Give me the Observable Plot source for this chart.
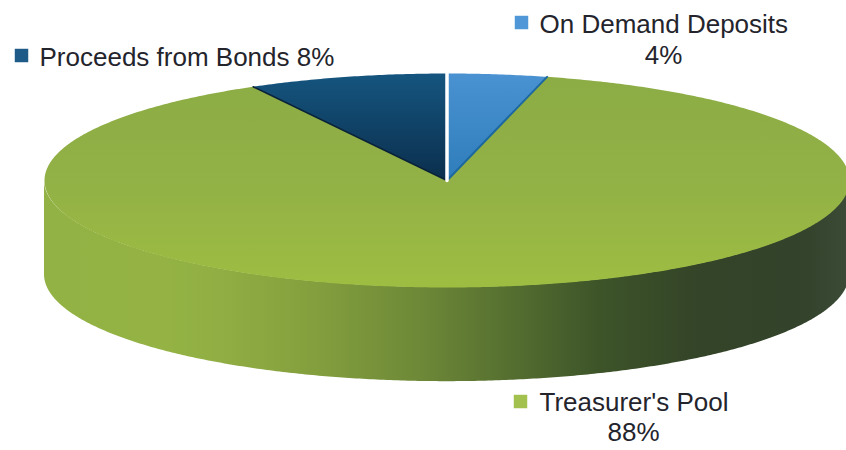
<!DOCTYPE html>
<html>
<head>
<meta charset="utf-8">
<script src="https://cdn.jsdelivr.net/npm/d3@7"></script>
<script src="https://cdn.jsdelivr.net/npm/@observablehq/plot@0.6"></script>
<style>html,body{margin:0;padding:0;background:#fff;overflow:hidden}svg{display:block}</style>
</head>
<body>
<div id="chart"></div>
<script>
const categories = ["On Demand Deposits", "Treasurer's Pool", "Proceeds from Bonds"];
const shares = [4, 88, 8];
const sliceFills = ["url(#blueTop)", "url(#greenTop)", "url(#navyTop)"];
const swatchColors = ["#4f97d6", "#a3c14f", "#1d5a87"];
const depth = 0.88;

// Cumulative clockwise angles from 12 o'clock, in degrees
let acc = 0;
const slices = categories.map((name, i) => {
  const start = acc * 3.6; acc += shares[i];
  return {name, start, end: acc * 3.6, fill: sliceFills[i]};
});
const rim = (a) => ({x: Math.sin(a * Math.PI / 180), y: Math.cos(a * Math.PI / 180)});
const wedge = (s) => {
  const pts = [{x: 0, y: 0}];
  for (let a = s.start; a < s.end; a += 0.5) pts.push(rim(a));
  pts.push(rim(s.end), {x: 0, y: 0});
  return pts;
};
const front = d3.range(90, 270.5, 0.5).map(rim);

const defs = () => d3.create("svg:defs").html(`
  <linearGradient id="side" x1="0" x2="1" y1="0" y2="0">
    <stop offset="0" stop-color="#93b245"/><stop offset="0.15" stop-color="#94b344"/>
    <stop offset="0.22" stop-color="#90ae43"/>
    <stop offset="0.33" stop-color="#84a03e"/><stop offset="0.47" stop-color="#6d8837"/>
    <stop offset="0.565" stop-color="#587231"/><stop offset="0.69" stop-color="#3d5429"/>
    <stop offset="0.815" stop-color="#334428"/><stop offset="0.95" stop-color="#33432c"/>
    <stop offset="1" stop-color="#3b4b36"/>
  </linearGradient>
  <linearGradient id="greenTop" x1="0" x2="0" y1="0" y2="1">
    <stop offset="0" stop-color="#8cac45"/><stop offset="0.5" stop-color="#92b146"/>
    <stop offset="1" stop-color="#9dbd42"/>
  </linearGradient>
  <linearGradient id="blueTop" x1="0" x2="0" y1="0" y2="1">
    <stop offset="0" stop-color="#4a92d2"/><stop offset="1" stop-color="#2f7dbb"/>
  </linearGradient>
  <linearGradient id="navyTop" x1="0" x2="0" y1="0" y2="1">
    <stop offset="0" stop-color="#15557f"/><stop offset="1" stop-color="#0b2e4d"/>
  </linearGradient>`).node();

const textStyle = {fontFamily: "'Liberation Sans', Arial, sans-serif", fontSize: 26, fill: "#24242c", frameAnchor: "top-left", lineAnchor: "bottom"};

const chart = Plot.plot({
  width: 846, height: 450, margin: 0,
  x: {domain: [-1, 1], range: [44, 849], axis: null},
  y: {domain: [-1, 1], range: [287, 73], axis: null},
  marks: [
    defs,
    Plot.areaY(front, {x: "x", y1: "y", y2: d => d.y - depth, fill: "url(#side)"}),
    slices.map(s => Plot.line(wedge(s), {x: "x", y: "y", fill: s.fill, stroke: "none"})),
    Plot.line([rim(slices[0].end), {x: 0, y: 0}], {x: "x", y: "y", stroke: "#1d689f", strokeWidth: 2}),
    Plot.line([rim(slices[2].start), {x: 0, y: 0}], {x: "x", y: "y", stroke: "#0a2238", strokeWidth: 1.5}),
    Plot.line([rim(0), {x: 0, y: 0}], {x: "x", y: "y", stroke: "#fff", strokeWidth: 3.5}),
    Plot.dot([0], {frameAnchor: "top-left", dx: 521, dy: 22, symbol: "square", r: 7.6, fill: swatchColors[0]}),
    Plot.dot([1], {frameAnchor: "top-left", dx: 520, dy: 401, symbol: "square", r: 7.6, fill: swatchColors[1]}),
    Plot.dot([2], {frameAnchor: "top-left", dx: 21, dy: 55, symbol: "square", r: 7.6, fill: swatchColors[2]}),
    Plot.text([categories[0]], {...textStyle, dx: 539, dy: 32, text: d => d, textAnchor: "start"}),
    Plot.text([shares[0] + "%"], {...textStyle, dx: 663, dy: 63, text: d => d, textAnchor: "middle"}),
    Plot.text([categories[1]], {...textStyle, dx: 539, dy: 410, text: d => d, textAnchor: "start"}),
    Plot.text([shares[1] + "%"], {...textStyle, dx: 633, dy: 440, text: d => d, textAnchor: "middle"}),
    Plot.text([categories[2] + " " + shares[2] + "%"], {...textStyle, dx: 39, dy: 65, text: d => d, textAnchor: "start"})
  ]
});
document.getElementById("chart").append(chart);
</script>
</body>
</html>
